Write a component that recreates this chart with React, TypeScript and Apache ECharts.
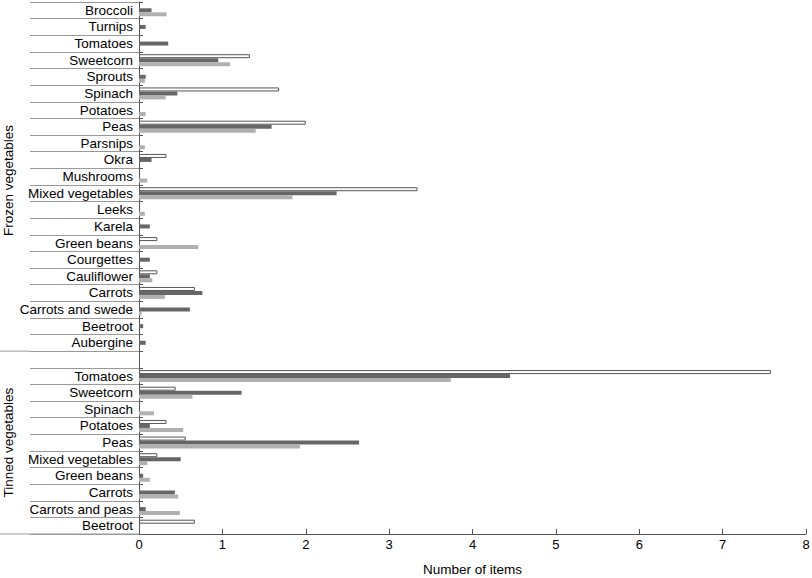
import React, { useEffect, useRef } from "react";
import * as echarts from "echarts";

const frozenCategories = [
  "Broccoli", "Turnips", "Tomatoes", "Sweetcorn", "Sprouts", "Spinach", "Potatoes", "Peas",
  "Parsnips", "Okra", "Mushrooms", "Mixed vegetables", "Leeks", "Karela", "Green beans",
  "Courgettes", "Cauliflower", "Carrots", "Carrots and swede", "Beetroot", "Aubergine",
];
const tinnedCategories = [
  "Tomatoes", "Sweetcorn", "Spinach", "Potatoes", "Peas", "Mixed vegetables", "Green beans",
  "Carrots", "Carrots and peas", "Beetroot",
];

// white bars (top of each row)
const frozenWhite = [null, null, null, 1.33, null, 1.68, null, 2.0, null, 0.33, null, 3.34, null, null, 0.22, null, 0.22, 0.67, null, null, null];
const tinnedWhite = [7.58, 0.44, null, 0.33, 0.56, 0.22, null, null, null, 0.67];
// dark grey bars (middle)
const frozenDark = [0.15, 0.08, 0.35, 0.95, 0.08, 0.46, null, 1.59, null, 0.15, null, 2.37, null, 0.13, null, 0.13, 0.13, 0.76, 0.61, 0.05, 0.08];
const tinnedDark = [4.45, 1.23, null, 0.13, 2.64, 0.5, 0.05, 0.43, 0.08, null];
// light grey bars (bottom)
const frozenLight = [0.33, null, null, 1.09, 0.07, 0.32, 0.08, 1.4, 0.07, null, 0.1, 1.84, 0.07, null, 0.71, null, 0.16, 0.31, 0.03, null, null];
const tinnedLight = [3.74, 0.64, 0.18, 0.53, 1.93, 0.1, 0.13, 0.47, 0.49, null];

const xTicks = [0, 1, 2, 3, 4, 5, 6, 7, 8];
const groupNames = ["Frozen vegetables", "Tinned vegetables"];

const categories = [...frozenCategories, "", ...tinnedCategories];
const whiteData = [...frozenWhite, null, ...tinnedWhite];
const darkData = [...frozenDark, null, ...tinnedDark];
const lightData = [...frozenLight, null, ...tinnedLight];

const FONT = "'Liberation Sans', Arial, sans-serif";

export default function App() {
  const ref = useRef<HTMLDivElement>(null);
  useEffect(() => {
    document.body.style.margin = "0";
    const chart = echarts.init(ref.current!, null, { renderer: "svg" });
    chart.setOption({
      animation: false,
      textStyle: { fontFamily: FONT, color: "#000" },
      grid: { left: 139, right: 6, top: 2, bottom: 44, containLabel: false, outerBoundsMode: "none" },
      xAxis: {
        type: "value",
        min: xTicks[0],
        max: xTicks[xTicks.length - 1],
        interval: 1,
        name: "Number of items",
        nameLocation: "middle",
        nameGap: 28,
        nameTextStyle: { fontSize: 13.5, color: "#000", fontFamily: FONT },
        axisLine: { show: true, lineStyle: { color: "#555", width: 1 } },
        axisTick: { show: true, inside: true, length: 5, lineStyle: { color: "#555" } },
        axisLabel: { fontSize: 13, color: "#000", margin: 4, fontFamily: FONT },
        splitLine: { show: false },
      },
      yAxis: [
        {
          type: "category",
          data: categories,
          inverse: true,
          axisLine: { show: true, lineStyle: { color: "#555", width: 1 } },
          axisTick: { show: true, inside: false, length: 109, lineStyle: { color: "#999" } },
          axisLabel: { fontSize: 13.5, color: "#000", margin: 6, interval: 0, fontFamily: FONT },
        },
        {
          type: "category",
          data: categories,
          inverse: true,
          position: "left",
          axisLine: { show: false },
          axisTick: { show: true, inside: true, length: 4, lineStyle: { color: "#555" } },
          axisLabel: { show: false },
        },
      ],
      series: [
        {
          type: "bar",
          data: whiteData,
          barGap: "0%",
          barCategoryGap: "28%",
          itemStyle: { color: "#fff", borderColor: "#555", borderWidth: 1 },
        },
        {
          type: "bar",
          data: darkData,
          barGap: "0%",
          barCategoryGap: "28%",
          itemStyle: { color: "#666" },
        },
        {
          type: "bar",
          data: lightData,
          barGap: "0%",
          barCategoryGap: "28%",
          itemStyle: { color: "#b0b0b0" },
        },
      ],
    });

    const nF = frozenCategories.length;
    const nAll = categories.length;
    const yAt = (i: number) => chart.convertToPixel({ yAxisIndex: 0 }, i) as number;
    const band = yAt(1) - yAt(0);
    const topY = yAt(0) - band / 2;
    const sepY = yAt(nF - 1) + band / 2;
    const botY = yAt(nAll - 1) + band / 2;
    const axisX = chart.convertToPixel({ xAxisIndex: 0 }, 0) as number;
    const lineStyle = { stroke: "#999", lineWidth: 1 };
    chart.setOption({
      graphic: [
        { type: "line", shape: { x1: 0, y1: sepY, x2: axisX - 109, y2: sepY }, style: lineStyle, silent: true },
        { type: "line", shape: { x1: 0, y1: botY, x2: axisX, y2: botY }, style: lineStyle, silent: true },
        {
          type: "text",
          x: 8,
          y: (topY + sepY) / 2 + 4,
          rotation: Math.PI / 2,
          style: { text: groupNames[0], font: `13.5px ${FONT}`, fill: "#000", align: "center", verticalAlign: "middle" },
        },
        {
          type: "text",
          x: 8,
          y: (sepY + botY) / 2,
          rotation: Math.PI / 2,
          style: { text: groupNames[1], font: `13.5px ${FONT}`, fill: "#000", align: "center", verticalAlign: "middle" },
        },
      ],
    });
    return () => chart.dispose();
  }, []);
  return <div ref={ref} style={{ width: 812, height: 578 }} />;
}
